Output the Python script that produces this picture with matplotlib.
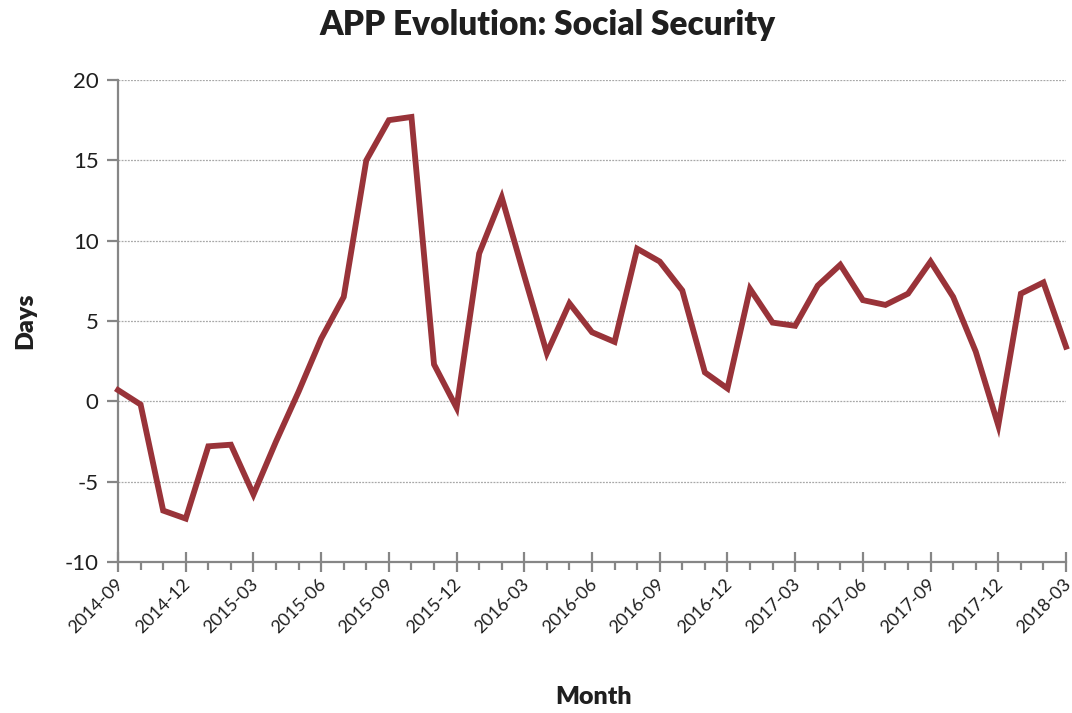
"""APP evolution line chart for Social Security."""

import matplotlib

matplotlib.use("Agg")
import matplotlib.pyplot as plt
from matplotlib.ticker import MultipleLocator
from matplotlib.transforms import offset_copy

months = [
    "2014-09", "2014-10", "2014-11", "2014-12", "2015-01", "2015-02", "2015-03",
    "2015-04", "2015-05", "2015-06", "2015-07", "2015-08", "2015-09", "2015-10",
    "2015-11", "2015-12", "2016-01", "2016-02", "2016-03", "2016-04", "2016-05",
    "2016-06", "2016-07", "2016-08", "2016-09", "2016-10", "2016-11", "2016-12",
    "2017-01", "2017-02", "2017-03", "2017-04", "2017-05", "2017-06", "2017-07",
    "2017-08", "2017-09", "2017-10", "2017-11", "2017-12", "2018-01", "2018-02",
    "2018-03",
]
days = [
    0.7, -0.2, -6.8, -7.3, -2.8, -2.7, -5.8,
    -2.5, 0.6, 3.9, 6.5, 15.0, 17.5, 17.7,
    2.3, -0.4, 9.2, 12.7, 7.8, 3.0, 6.1,
    4.3, 3.7, 9.5, 8.7, 6.9, 1.8, 0.8,
    7.0, 4.9, 4.7, 7.2, 8.5, 6.3, 6.0,
    6.7, 8.7, 6.5, 3.1, -1.5, 6.7, 7.4,
    3.4,
]

LINE = "#993339"
AXIS = "#868686"
TEXT = "#1f1f1f"

plt.rcParams.update({"font.family": ["Lato", "DejaVu Sans"], "axes.unicode_minus": False})

fig = plt.figure(figsize=(10.72, 7.13), dpi=100)
ax = fig.add_axes([0.1101, 0.2118, 0.8843, 0.676])

x = list(range(len(months)))
ax.plot(x, days, color=LINE, linewidth=4.2, solid_joinstyle="miter", clip_on=False, zorder=3)

ax.set_xlim(0, len(months) - 1)
ax.set_ylim(-10, 20)
ax.yaxis.set_major_locator(MultipleLocator(5))
ax.set_xticks(x[::3])
ax.set_xticklabels([])
ax.set_xticks(x, minor=True)

# rotated month labels, nudged left so the last one stays inside the canvas
lab_tf = offset_copy(ax.get_xaxis_transform(), fig=fig, x=-2.5, y=-10, units="points")
for i in x[::3]:
    ax.text(i, 0, months[i], transform=lab_tf, rotation=45, ha="right", va="top",
            rotation_mode="anchor", fontsize=13, color=TEXT)

ax.tick_params(axis="x", which="major", direction="inout", length=14, width=1.6, color=AXIS)
ax.tick_params(axis="x", which="minor", direction="out", length=6, width=1.6, color=AXIS)
ax.tick_params(axis="y", which="major", direction="out", length=8, width=1.6,
               color=AXIS, labelsize=16, labelcolor=TEXT, pad=6)

ax.grid(axis="y", color="#a8a8a8", linestyle=(0, (1.5, 1)), linewidth=0.9)
ax.set_axisbelow(True)

for side in ("top", "right"):
    ax.spines[side].set_visible(False)
for side in ("left", "bottom"):
    ax.spines[side].set_color(AXIS)
    ax.spines[side].set_linewidth(1.6)

fig.text(0.511, 0.965, "APP Evolution: Social Security", ha="center", va="center",
         fontsize=24, fontweight="heavy", color=TEXT)
fig.text(0.024, 0.55, "Days", rotation=90, ha="center", va="center",
         fontsize=18, fontweight="heavy", color=TEXT)
fig.text(0.554, 0.022, "Month", ha="center", va="center",
         fontsize=18, fontweight="heavy", color=TEXT)

fig.savefig("out.png", dpi=100)
